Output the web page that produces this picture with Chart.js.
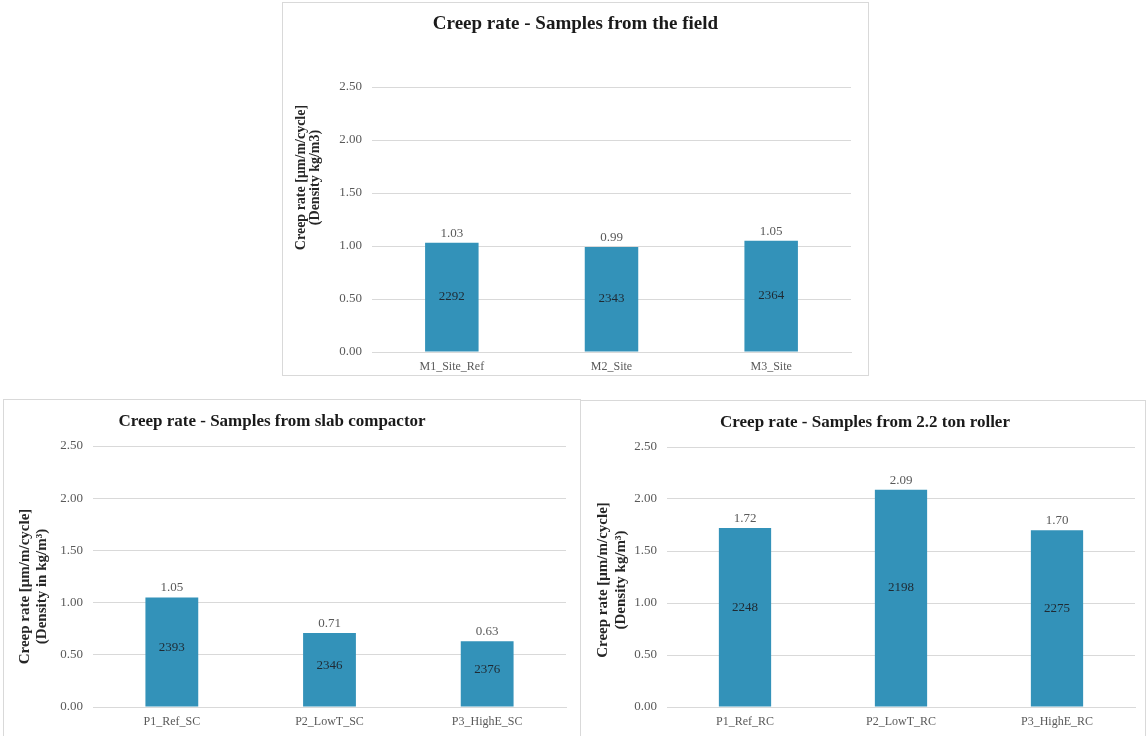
<!DOCTYPE html>
<html>
<head>
<meta charset="utf-8">
<script src="https://cdn.jsdelivr.net/npm/chart.js@4/dist/chart.umd.min.js"></script>
<style>
  html, body { margin: 0; padding: 0; background: #ffffff; }
  body { width: 1148px; height: 736px; position: relative; overflow: hidden; }
  .panel { position: absolute; border: 1px solid #d9d9d9; background: #ffffff; box-sizing: border-box; }
  .panel canvas { display: block; }
</style>
</head>
<body>
<div class="panel" id="pField" style="left:282px; top:2px; width:587px; height:374px;"><canvas id="cField"></canvas></div>
<div class="panel" id="pSlab" style="left:3px; top:399px; width:578px; height:340px; border-bottom:none;"><canvas id="cSlab"></canvas></div>
<div class="panel" id="pRoller" style="left:580px; top:400px; width:566px; height:340px; border-bottom:none;"><canvas id="cRoller"></canvas></div>
<script>
// Creep rate per sample group, with measured density (kg/m3) shown inside each bar
const fieldCategories = ['M1_Site_Ref', 'M2_Site', 'M3_Site'];
const fieldCreep = [1.03, 0.99, 1.05];
const fieldDensity = [2292, 2343, 2364];

const slabCategories = ['P1_Ref_SC', 'P2_LowT_SC', 'P3_HighE_SC'];
const slabCreep = [1.05, 0.71, 0.63];
const slabDensity = [2393, 2346, 2376];

const rollerCategories = ['P1_Ref_RC', 'P2_LowT_RC', 'P3_HighE_RC'];
const rollerCreep = [1.72, 2.09, 1.70];
const rollerDensity = [2248, 2198, 2275];

const yTickValues = [0, 0.5, 1.0, 1.5, 2.0, 2.5];

const SERIF = '"Liberation Serif", "DejaVu Serif", serif';
const BAR_BLUE = '#3392b9';

// Value above each bar, density in the middle of each bar
const barLabels = {
  id: 'barLabels',
  afterDatasetsDraw(chart, args, opts) {
    const ctx = chart.ctx;
    const meta = chart.getDatasetMeta(0);
    const ds = chart.data.datasets[0];
    ctx.save();
    ctx.textAlign = 'center';
    meta.data.forEach((bar, i) => {
      ctx.font = '13px ' + SERIF;
      ctx.fillStyle = '#595959';
      ctx.textBaseline = 'bottom';
      ctx.fillText(ds.data[i].toFixed(2), bar.x, bar.y - 3);
      ctx.font = '13px ' + SERIF;
      ctx.fillStyle = '#1f2a33';
      ctx.textBaseline = 'middle';
      ctx.fillText(String(opts.inner[i]), bar.x, (bar.y + bar.base) / 2 + opts.innerShift);
    });
    ctx.restore();
  }
};

// Chart heading and two-line rotated caption for the value axis
const headings = {
  id: 'headings',
  afterDraw(chart, args, opts) {
    const ctx = chart.ctx;
    const area = chart.chartArea;
    ctx.save();
    ctx.textAlign = 'center';
    ctx.textBaseline = 'middle';

    ctx.fillStyle = '#1a1a1a';
    ctx.font = 'bold ' + opts.titleSize + 'px ' + SERIF;
    ctx.fillText(opts.title, chart.width / 2 + opts.titleShift, opts.titleY);

    const cy = (area.top + area.bottom) / 2 + opts.captionShift;
    ctx.fillStyle = '#262626';
    ctx.font = 'bold ' + opts.captionSize + 'px ' + SERIF;
    opts.caption.forEach((line, k) => {
      ctx.save();
      ctx.translate(opts.captionX[k], cy);
      ctx.rotate(-Math.PI / 2);
      ctx.fillText(line, 0, 0);
      ctx.restore();
    });
    ctx.restore();
  }
};

function buildChart(canvasId, w, h, cfg) {
  const canvas = document.getElementById(canvasId);
  canvas.style.width = w + 'px';
  canvas.style.height = h + 'px';
  return new Chart(canvas, {
    type: 'bar',
    data: {
      labels: cfg.categories,
      datasets: [{
        data: cfg.values,
        backgroundColor: BAR_BLUE,
        borderWidth: 0,
        barPercentage: 0.335,
        categoryPercentage: 1.0
      }]
    },
    options: {
      responsive: false,
      maintainAspectRatio: false,
      animation: false,
      devicePixelRatio: 1,
      layout: { padding: { left: 0, right: cfg.padRight, top: cfg.plotTop, bottom: 0 } },
      plugins: {
        legend: { display: false },
        tooltip: { enabled: false },
        title: { display: false },
        barLabels: { inner: cfg.density, innerShift: cfg.innerShift },
        headings: {
          title: cfg.title, titleSize: cfg.titleSize, titleY: cfg.titleY, titleShift: cfg.titleShift,
          caption: cfg.caption, captionX: cfg.captionX, captionShift: cfg.captionShift, captionSize: cfg.captionSize
        }
      },
      scales: {
        x: {
          grid: { display: false, drawTicks: false },
          border: { display: true, color: '#d9d9d9', width: 1 },
          ticks: { color: '#595959', font: { family: SERIF, size: 12 }, padding: 8, maxRotation: 0 },
          afterFit(scale) { scale.height = cfg.xHeight; }
        },
        y: {
          min: 0,
          max: 2.5,
          afterBuildTicks(scale) { scale.ticks = yTickValues.map(v => ({ value: v })); },
          grid: { color: '#d9d9d9', drawTicks: false },
          border: { display: false },
          ticks: {
            color: '#595959',
            font: { family: SERIF, size: 13 },
            padding: 10,
            callback: v => Number(v).toFixed(2)
          },
          afterFit(scale) { scale.width = cfg.yWidth; }
        }
      }
    },
    plugins: [barLabels, headings]
  });
}

buildChart('cField', 585, 372, {
  categories: fieldCategories, values: fieldCreep, density: fieldDensity,
  title: 'Creep rate - Samples from the field',
  titleSize: 19, titleY: 21, titleShift: 0,
  plotTop: 84, padRight: 17, yWidth: 89, xHeight: 23,
  innerShift: -1,
  caption: ['Creep rate [μm/m/cycle]', '(Density kg/m3)'],
  captionX: [18, 32], captionShift: -42, captionSize: 14
});

buildChart('cSlab', 576, 339, {
  categories: slabCategories, values: slabCreep, density: slabDensity,
  title: 'Creep rate - Samples from slab compactor',
  titleSize: 17, titleY: 22, titleShift: -20,
  plotTop: 46, padRight: 14, yWidth: 89, xHeight: 32,
  innerShift: -4,
  caption: ['Creep rate [μm/m/cycle]', '(Density in kg/m³)'],
  captionX: [21, 38], captionShift: 10, captionSize: 15
});

buildChart('cRoller', 564, 339, {
  categories: rollerCategories, values: rollerCreep, density: rollerDensity,
  title: 'Creep rate - Samples from 2.2 ton roller',
  titleSize: 17, titleY: 22, titleShift: 2,
  plotTop: 46, padRight: 10, yWidth: 86, xHeight: 33,
  innerShift: -10,
  caption: ['Creep rate [μm/m/cycle]', '(Density kg/m³)'],
  captionX: [22, 40], captionShift: 3, captionSize: 15
});
</script>
</body>
</html>
